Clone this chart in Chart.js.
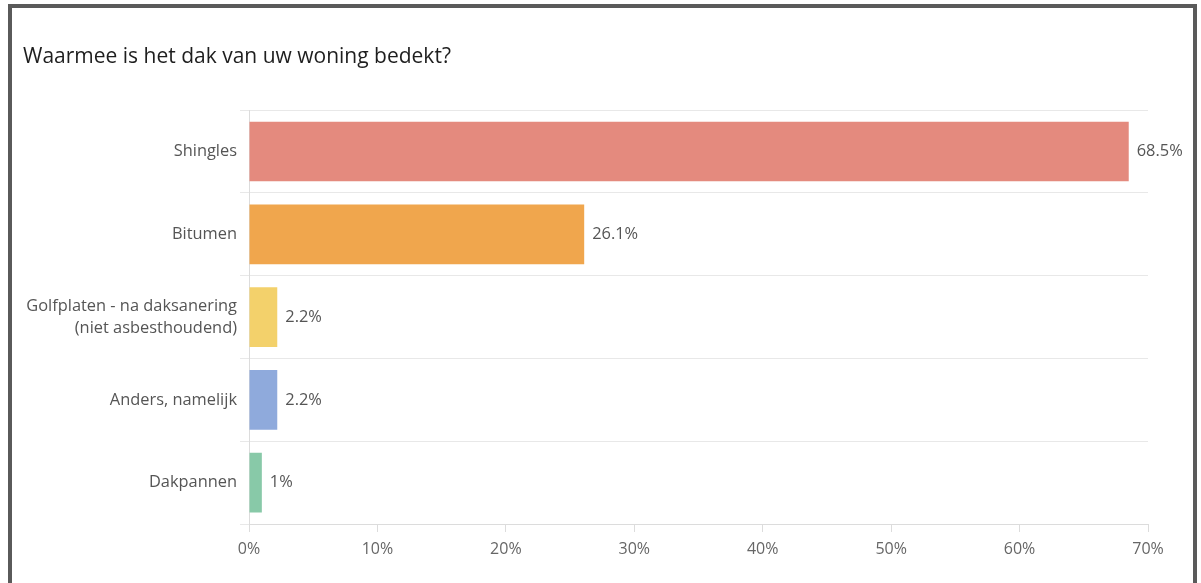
<!DOCTYPE html>
<html>
<head>
<meta charset="utf-8">
<script src="https://cdn.jsdelivr.net/npm/chart.js@4/dist/chart.umd.min.js"></script>
<style>
  html, body { margin: 0; padding: 0; background: #fff; overflow: hidden; }
  #frame {
    position: absolute; left: 8px; top: 4px;
    width: 1181px; height: 600px;
    border: 4px solid #5a5a5a; border-bottom: none;
  }
  #wrap { position: absolute; left: 0; top: 0; width: 1181px; height: 575px; }
</style>
</head>
<body>
<div id="frame"><div id="wrap"><canvas id="report1"></canvas></div></div>
<script>
const titleText = 'Waarmee is het dak van uw woning bedekt?';
const categories = ['Shingles', 'Bitumen', ['Golfplaten - na daksanering', '(niet asbesthoudend)'], 'Anders, namelijk', 'Dakpannen'];
const percentages = [68.5, 26.1, 2.2, 2.2, 1];
const valueLabels = ['68.5%', '26.1%', '2.2%', '2.2%', '1%'];
const barColors = ['#e48a7e', '#f0a64d', '#f3d16b', '#8faadc', '#88c9a8'];
const xTicks = [0, 10, 20, 30, 40, 50, 60, 70];

// value text right of each bar
const barValues = {
  id: 'barValues',
  afterDatasetsDraw(chart) {
    const c = chart.ctx;
    const meta = chart.getDatasetMeta(0);
    c.save();
    c.font = '16.4px "Open Sans"';
    c.fillStyle = '#555';
    c.textBaseline = 'middle';
    c.textAlign = 'left';
    meta.data.forEach((bar, i) => {
      c.fillText(valueLabels[i], bar.x + 8, bar.y);
    });
    c.restore();
  }
};

const ctx = document.getElementById('report1');
new Chart(ctx, {
  type: 'bar',
  data: {
    labels: categories,
    datasets: [{
      data: percentages,
      backgroundColor: barColors,
      barPercentage: 0.72,
      categoryPercentage: 1
    }]
  },
  options: {
    indexAxis: 'y',
    responsive: true,
    maintainAspectRatio: false,
    animation: false,
    layout: { padding: { left: 11, right: 45, top: 0, bottom: 0 } },
    plugins: {
      legend: { display: false },
      tooltip: { enabled: false },
      title: {
        display: true,
        text: titleText,
        align: 'start',
        color: '#1e1e1e',
        font: { family: 'Open Sans', size: 21, weight: 'normal' },
        padding: { top: 36, bottom: 41 }
      }
    },
    scales: {
      x: {
        min: 0,
        max: 70,
        afterBuildTicks: (scale) => { scale.ticks = xTicks.map(v => ({ value: v })); },
        afterFit: (scale) => { scale.height = 59; },
        grid: { drawOnChartArea: false, drawTicks: true, tickLength: 8, color: '#dcdcdc' },
        border: { display: true, color: '#dcdcdc' },
        ticks: {
          color: '#666',
          padding: 8,
          font: { family: 'Open Sans', size: 16 },
          callback: (v) => v + '%'
        }
      },
      y: {
        afterFit: (scale) => { scale.width = 226; },
        grid: { color: '#e8e8e8', tickLength: 9 },
        border: { display: true, color: '#dcdcdc' },
        ticks: {
          color: '#555',
          padding: 3,
          font: { family: 'Open Sans', size: 16.4, lineHeight: 1.35 }
        }
      }
    }
  },
  plugins: [barValues]
});
</script>
</body>
</html>
